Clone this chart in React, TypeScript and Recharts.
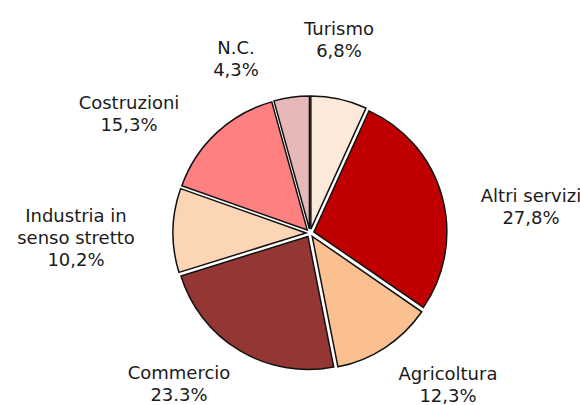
import React from 'react';
import { PieChart, Pie, Cell, Sector } from 'recharts';

// sectors, clockwise from 12 o'clock
const categories = ['Turismo', 'Altri servizi', 'Agricoltura', 'Commercio', 'Industria in\nsenso stretto', 'Costruzioni', 'N.C.'];
const shares = [6.8, 27.8, 12.3, 23.3, 10.2, 15.3, 4.3];
const shareLabels = ['6,8%', '27,8%', '12,3%', '23.3%', '10,2%', '15,3%', '4,3%'];

const COLORS = ['#FDE9D9', '#C00000', '#FAC090', '#943634', '#FCD5B4', '#FF8080', '#E6B9B8'];

// first baseline of each label block, relative to the pie centre
const LABEL_OFFSETS = [
  { dx: 29, dy: -198 },
  { dx: 221, dy: -31 },
  { dx: 138, dy: 147 },
  { dx: -131, dy: 146 },
  { dx: -234, dy: -11 },
  { dx: -181, dy: -124 },
  { dx: -74, dy: -179 },
];

const RADIAN = Math.PI / 180;
const EXPLODE = 4;
const LINE_H = 22;

const data = categories.map((name, i) => ({ name, value: shares[i], pct: shareLabels[i] }));

const ExplodedSector = (props: any) => {
  const { cx, cy, midAngle } = props;
  const dx = Math.cos(-midAngle * RADIAN) * EXPLODE;
  const dy = Math.sin(-midAngle * RADIAN) * EXPLODE;
  return <Sector {...props} cx={cx + dx} cy={cy + dy} />;
};

const renderLabel = (props: any) => {
  const { cx, cy, index } = props;
  const lines = [...data[index].name.split('\n'), data[index].pct];
  const off = LABEL_OFFSETS[index];
  const x = cx + off.dx;
  const y0 = cy + off.dy;
  return (
    <text x={x} y={y0} textAnchor="middle" fill="#1a1a1a" fontSize={18} fontFamily="'DejaVu Sans', Verdana, sans-serif">
      {lines.map((l, i) => (
        <tspan key={i} x={x} y={y0 + i * LINE_H}>{l}</tspan>
      ))}
    </text>
  );
};

export default function App() {
  return (
    <div style={{ position: 'absolute', left: 0, top: 0, background: '#fff' }}>
      <PieChart width={580} height={405}>
        <Pie
          data={data}
          dataKey="value"
          nameKey="name"
          cx={305}
          cy={228}
          outerRadius={133}
          startAngle={90}
          endAngle={-270}
          stroke="#111"
          strokeWidth={1.5}
          shape={ExplodedSector}
          label={renderLabel}
          labelLine={false}
          isAnimationActive={false}
        >
          {data.map((d, i) => (
            <Cell key={d.name} fill={COLORS[i]} />
          ))}
        </Pie>
      </PieChart>
    </div>
  );
}
